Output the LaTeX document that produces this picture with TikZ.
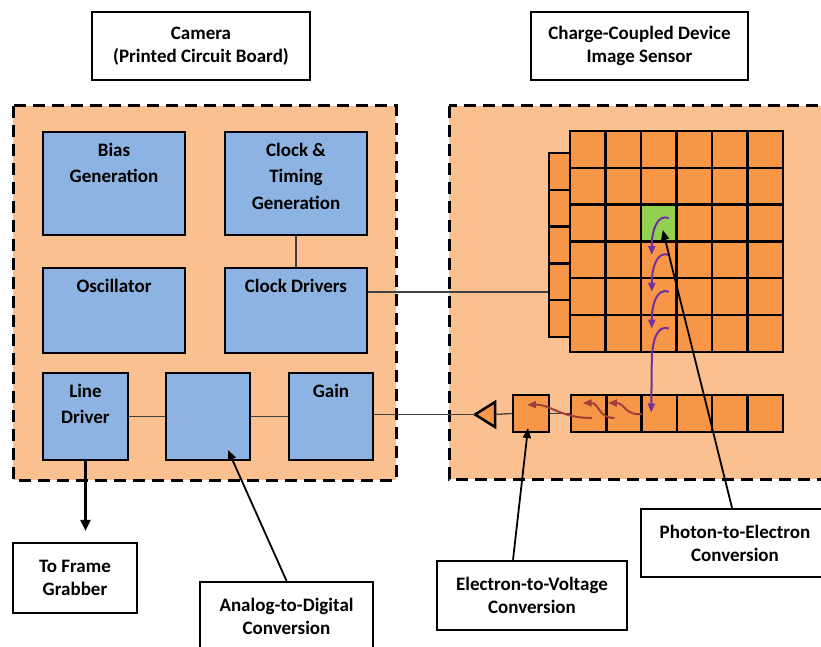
\documentclass[tikz,border=0pt]{standalone}
\usepackage{fontspec}
\setmainfont{Carlito}
\usetikzlibrary{calc,arrows.meta}

\definecolor{boardfill}{HTML}{FAC090}
\definecolor{cellfill}{HTML}{F79646}
\definecolor{blockfill}{HTML}{8DB3E2}
\definecolor{pixgreen}{HTML}{92D050}
\definecolor{shiftpurple}{HTML}{7030A0}
\definecolor{readred}{HTML}{A0403A}

\tikzset{
	board/.style={fill=boardfill, draw=black, line width=3pt, dash pattern=on 12pt off 7pt},
	tagbox/.style={draw, fill=white, line width=2.5pt, align=center, inner sep=0pt, font=\bfseries\fontsize{19}{23}\selectfont},
	blk/.style={draw, fill=blockfill, line width=2.5pt, inner sep=0pt},
	blktxt/.style={anchor=north, align=center, inner sep=0pt, yshift=-12pt, font=\bfseries\fontsize{19}{26.5}\selectfont},
	pix/.style={draw, fill=cellfill, line width=2.5pt, inner sep=0pt, minimum width=35.5pt, minimum height=36.8pt},
	wire/.style={line width=1.3pt, draw=black!75},
	callout/.style={line width=1.8pt, -{Triangle[length=10pt,width=8pt]}},
	shiftarr/.style={shiftpurple, line width=2pt, -{Triangle[length=9pt,width=7pt]}},
	readarr/.style={readred, line width=2pt, -{Triangle[length=9pt,width=7pt]}}
}

\begin{document}
\begin{tikzpicture}[x=1pt, y=-1pt]
			%%%%% START %%%%%
			\useasboundingbox (0,0) rectangle (821,647);
			
			\draw[board] (13,106) rectangle (396,480);
			\draw[board] (449,106) rectangle (840,479);
			
			\node[tagbox, minimum width=218pt, minimum height=68pt] (camtag) at (201,46) {Camera\\(Printed Circuit Board)};
			\node[tagbox, minimum width=217pt, minimum height=68pt] (ccdtag) at (639.5,46) {Charge-Coupled Device\\Image Sensor};
			
			% camera blocks
			\node[blk, minimum width=142pt, minimum height=103pt, label={[blktxt]north:Bias\\Generation}] (bias) at (114,183.5) {};
			\node[blk, minimum width=142pt, minimum height=103pt, label={[blktxt]north:Clock \&\\Timing\\Generation}] (ctg) at (296,183.5) {};
			\node[blk, minimum width=142pt, minimum height=85pt, label={[blktxt]north:Oscillator}] (osc) at (114,310.5) {};
			\node[blk, minimum width=142pt, minimum height=85pt, label={[blktxt]north:Clock Drivers}] (cdrv) at (296,310.5) {};
			\node[blk, minimum width=85pt, minimum height=87pt, label={[blktxt]north:Line\\Driver}] (ldrv) at (85.5,416.5) {};
			\node[blk, minimum width=84pt, minimum height=87pt] (adc) at (208,416.5) {};
			\node[blk, minimum width=84pt, minimum height=87pt, label={[blktxt]north:Gain}] (gain) at (331,416.5) {};
			
			\draw[wire] (ctg.south) -- (cdrv.north);
			\draw[wire] (ldrv.east) -- (adc.west);
			\draw[wire] (adc.east) -- (gain.west);
			
			% sensor array
			\foreach \c in {1,...,6}
				\foreach \r in {1,...,6}
					\node[pix] (px-\c-\r) at ({570+35.5*(\c-0.5)},{131+36.8*(\r-0.5)}) {};
			\node[pix, fill=pixgreen] (lit) at (px-3-3) {};
			\foreach \k in {1,...,5}
				\node[pix, minimum width=21pt] (vs-\k) at (559.5,{153+36.8*(\k-0.5)}) {};
			\foreach \c in {1,...,6}
				\node[pix, minimum width=35.3pt, minimum height=37pt] (hr-\c) at ({571+35.3*(\c-0.5)},413.5) {};
			\node[pix, minimum width=36pt, minimum height=37pt] (sense) at (531,413.5) {};
			
			\draw[line width=2.5pt, fill=cellfill, line join=miter] (495,402) -- (475,414.5) coordinate (amptip) -- (495,427) -- cycle;
			\coordinate (ampback) at (495,414.5);
			
			\draw[wire] ([yshift=18.5pt]cdrv.east) -- ([yshift=18.5pt]cdrv.east -| vs-4.west);
			\draw[wire] (gain.east |- amptip) -- (amptip);
			\draw[wire] (ampback) -- (sense.west);
			\draw[wire] (sense.east) -- (hr-1.west);
			
			% charge transfer
			\foreach \r in {3,4,5}
				\draw[shiftarr] ($(px-3-\r)+(10,-5)$) .. controls ($(px-3-\r)+(-2,-9)$) and ($(px-3-\r)+(-7,8)$) .. ($(px-3-\r)+(-7,32)$);
			\draw[shiftarr] ($(px-3-6)+(10,-5)$) .. controls ($(px-3-6)+(-2,-9)$) and ($(px-3-6)+(-7,8)$) .. ($(px-3-6)+(-7,30)$) -- ($(hr-3)+(-8,-1)$);
			
			\draw[readarr] ($(hr-2)+(18,0.5)$) .. controls ($(hr-2)+(1,2.5)$) and ($(hr-2)+(1,-10.5)$) .. ($(hr-2)+(-16,-10.5)$);
			\draw[readarr] ($(hr-1)+(26,4.5)$) .. controls ($(hr-1)+(9,4.5)$) and ($(hr-1)+(11,-10.5)$) .. ($(hr-1)+(-6,-10.5)$);
			\draw[readarr] ($(sense)+(61,4.5)$) .. controls ($(sense)+(29,4.5)$) and ($(sense)+(19,-9.5)$) .. ($(sense)+(-4,-8.5)$);
			
			% labels below
			\node[tagbox, minimum width=124pt, minimum height=70pt] (grab) at (75,578) {To Frame\\Grabber};
			\node[tagbox, minimum width=173pt, minimum height=68pt] (adclbl) at (286.5,616) {Analog-to-Digital\\Conversion};
			\node[tagbox, minimum width=190pt, minimum height=69pt] (evlbl) at (532,595.5) {Electron-to-Voltage\\Conversion};
			\node[tagbox, minimum width=188pt, minimum height=68pt] (pelbl) at (735,543) {Photon-to-Electron\\Conversion};
			
			\draw[callout, line width=2.6pt, -{Triangle[length=11pt,width=10pt]}, shorten >=11pt] (ldrv.south) -- (ldrv.south |- grab.north);
			\draw[callout] (adclbl.north) -- ($(adc)+(20,33.5)$);
			\draw[callout] ([xshift=-19pt]evlbl.north) -- ($(sense)+(-3,14.5)$);
			\draw[callout] ([xshift=-3pt]pelbl.north) -- ($(lit)+(4,7)$);
			
			%%%%% END %%%%%
\end{tikzpicture}
\end{document}
